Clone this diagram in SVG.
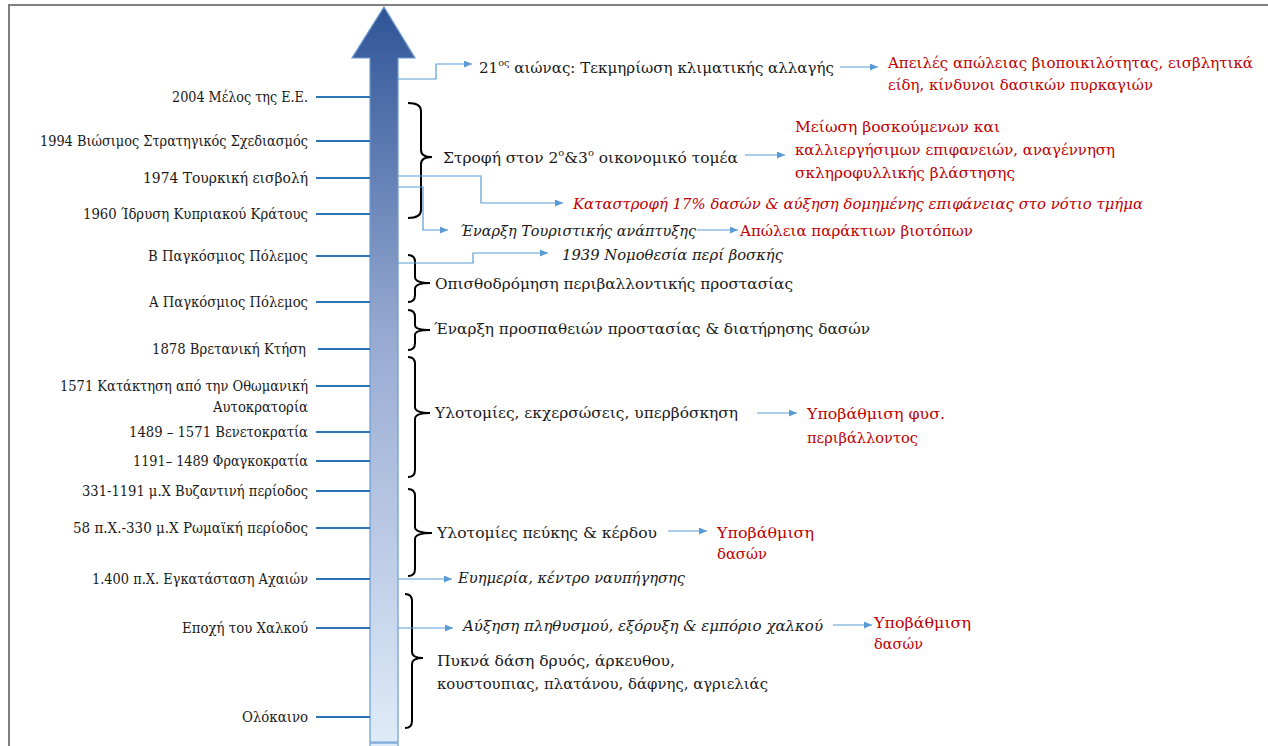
<svg xmlns="http://www.w3.org/2000/svg" width="1268" height="746" viewBox="0 0 1268 746" font-family="DejaVu Serif, serif">
<style>
.lbl{font-size:14.5px;fill:#1a1a1a;text-anchor:end}
.t{font-size:15.5px;fill:#1a1a1a}
.r{fill:#c00000}
.i{font-style:italic}
.tick{stroke:#2e75b6;stroke-width:2;fill:none}
.arr{stroke:#5b9bd5;stroke-width:1.2;fill:none;marker-end:url(#ah)}
.br{stroke:#000;stroke-width:2;fill:none}
</style>
<defs>
<linearGradient id="g" x1="0" y1="7" x2="0" y2="742" gradientUnits="userSpaceOnUse">
<stop offset="0" stop-color="#2f5597"/>
<stop offset="0.45" stop-color="#98aad2"/>
<stop offset="1" stop-color="#deebf8"/>
</linearGradient>
<marker id="ah" markerWidth="8" markerHeight="8" refX="8" refY="3.5" orient="auto" markerUnits="userSpaceOnUse">
<path d="M0,0 L8,3.5 L0,7 z" fill="#5b9bd5"/>
</marker>
</defs>
<rect width="1268" height="746" fill="#fff"/>
<path d="M9,760 V5 H1280" stroke="#7f7f7f" stroke-width="2" fill="none"/>
<g id="timeline-arrow">
<polygon points="384,7 415,58 398,58 398,742 370,742 370,58 352,58" fill="url(#g)" stroke="#6c9bd2" stroke-width="1.2"/>
<rect x="370" y="743" width="28" height="10" fill="#deebf8" stroke="#6c9bd2" stroke-width="1.2"/>
</g>
<g id="ticks">
<path class="tick" d="M316,97H370M316,141H370M316,178H370M316,214H370M316,256H370M316,302H370M318,349H370M316,386H370M316,432H370M316,461H370M316,491H370M316,528H370M316,579H370M316,628H370M316,717H370"/>
</g>
<g id="dates">
<text class="lbl" x="308" y="102" textLength="136" lengthAdjust="spacingAndGlyphs">2004 Μέλος της Ε.Ε.</text>
<text class="lbl" x="308" y="146" textLength="268" lengthAdjust="spacingAndGlyphs">1994 Βιώσιμος Στρατηγικός Σχεδιασμός</text>
<text class="lbl" x="308" y="183" textLength="165" lengthAdjust="spacingAndGlyphs">1974 Τουρκική εισβολή</text>
<text class="lbl" x="308" y="219" textLength="225" lengthAdjust="spacingAndGlyphs">1960 Ίδρυση Κυπριακού Κράτους</text>
<text class="lbl" x="308" y="261" textLength="160" lengthAdjust="spacingAndGlyphs">Β Παγκόσμιος Πόλεμος</text>
<text class="lbl" x="308" y="307" textLength="159" lengthAdjust="spacingAndGlyphs">Α Παγκόσμιος Πόλεμος</text>
<text class="lbl" x="306" y="354" textLength="154" lengthAdjust="spacingAndGlyphs">1878 Βρετανική Κτήση</text>
<text class="lbl" x="308" y="391" textLength="248" lengthAdjust="spacingAndGlyphs">1571 Κατάκτηση από την Οθωμανική</text>
<text class="lbl" x="308" y="412" textLength="95" lengthAdjust="spacingAndGlyphs">Αυτοκρατορία</text>
<text class="lbl" x="308" y="437" textLength="179" lengthAdjust="spacingAndGlyphs">1489 – 1571 Βενετοκρατία</text>
<text class="lbl" x="308" y="466" textLength="175" lengthAdjust="spacingAndGlyphs">1191– 1489 Φραγκοκρατία</text>
<text class="lbl" x="308" y="496" textLength="226" lengthAdjust="spacingAndGlyphs">331-1191 μ.Χ Βυζαντινή περίοδος</text>
<text class="lbl" x="308" y="533" textLength="235" lengthAdjust="spacingAndGlyphs">58 π.Χ.-330 μ.Χ Ρωμαϊκή περίοδος</text>
<text class="lbl" x="308" y="584" textLength="216" lengthAdjust="spacingAndGlyphs">1.400 π.Χ. Εγκατάσταση Αχαιών</text>
<text class="lbl" x="308" y="633" textLength="126" lengthAdjust="spacingAndGlyphs">Εποχή του Χαλκού</text>
<text class="lbl" x="308" y="722" textLength="66" lengthAdjust="spacingAndGlyphs">Ολόκαινο</text>
</g>
<g id="braces">
<path class="br" d="M408,103 Q421,103 421,111 L421,150 Q421,157 432,157 Q421,157 421,164 L421,210 Q421,218 408,218"/>
<path class="br" d="M408,255 Q415,255 415,262 L415,277 Q415,283 430,283 Q415,283 415,289 L415,295 Q415,302 408,302"/>
<path class="br" d="M408,310 Q415,310 415,317 L415,325 Q415,330 430,330 Q415,330 415,335 L415,343 Q415,350 408,350"/>
<path class="br" d="M408,357 Q415,357 415,364 L415,407 Q415,413 430,413 Q415,413 415,419 L415,470 Q415,477 408,477"/>
<path class="br" d="M408,489 Q415,489 415,496 L415,527 Q415,533 432,533 Q415,533 415,539 L415,569 Q415,576 408,576"/>
<path class="br" d="M405,594 Q412,594 412,601 L412,652 Q412,658 423,658 Q412,658 412,664 L412,721 Q412,728 405,728"/>
</g>
<g id="connectors">
<path class="arr" d="M398,79 H436 V64 H472"/>
<path class="arr" d="M840,67 H878"/>
<path class="arr" d="M745,155 H785"/>
<path class="arr" d="M398,176 H481 V203 H563"/>
<path class="arr" d="M398,187 H423 V230 H448"/>
<path class="arr" d="M697,230 H738"/>
<path class="arr" d="M398,263 H473 V253 H548"/>
<path class="arr" d="M757,413 H797"/>
<path class="arr" d="M668,531 H707"/>
<path class="arr" d="M398,579 H452"/>
<path class="arr" d="M398,628 H453"/>
<path class="arr" d="M833,625 H872"/>
</g>
<g id="n-21c">
<text class="t" x="479" y="73" textLength="355" lengthAdjust="spacingAndGlyphs">21<tspan font-size="10" dy="-7">ος</tspan><tspan dy="7"> αιώνας: Τεκμηρίωση κλιματικής αλλαγής</tspan></text>
</g>
<g id="n-threats">
<text class="t r" x="888" y="68" textLength="365" lengthAdjust="spacingAndGlyphs">Απειλές απώλειας βιοποικιλότητας, εισβλητικά</text>
<text class="t r" x="888" y="90" textLength="265" lengthAdjust="spacingAndGlyphs">είδη, κίνδυνοι δασικών πυρκαγιών</text>
</g>
<g id="n-sector">
<text class="t" x="443" y="163" textLength="295" lengthAdjust="spacingAndGlyphs">Στροφή στον 2<tspan font-size="10" dy="-7">ο</tspan><tspan dy="7">&amp;3</tspan><tspan font-size="10" dy="-7">ο</tspan><tspan dy="7"> οικονομικό τομέα</tspan></text>
</g>
<g id="n-reduction">
<text class="t r" x="795" y="132" textLength="205" lengthAdjust="spacingAndGlyphs">Μείωση βοσκούμενων και</text>
<text class="t r" x="795" y="155" textLength="320" lengthAdjust="spacingAndGlyphs">καλλιεργήσιμων επιφανειών, αναγέννηση</text>
<text class="t r" x="795" y="178" textLength="220" lengthAdjust="spacingAndGlyphs">σκληροφυλλικής βλάστησης</text>
</g>
<g id="n-destruction">
<text class="t r i" x="573" y="209" textLength="570" lengthAdjust="spacingAndGlyphs">Καταστροφή 17% δασών &amp; αύξηση δομημένης επιφάνειας στο νότιο τμήμα</text>
</g>
<g id="n-tourism">
<text class="t i" x="460" y="236" textLength="236" lengthAdjust="spacingAndGlyphs">Έναρξη Τουριστικής ανάπτυξης</text>
</g>
<g id="n-coastal">
<text class="t r" x="740" y="236" textLength="233" lengthAdjust="spacingAndGlyphs">Απώλεια παράκτιων βιοτόπων</text>
</g>
<g id="n-1939">
<text class="t i" x="562" y="260" textLength="221" lengthAdjust="spacingAndGlyphs">1939 Νομοθεσία περί βοσκής</text>
</g>
<g id="n-regression">
<text class="t" x="435" y="289" textLength="358" lengthAdjust="spacingAndGlyphs">Οπισθοδρόμηση περιβαλλοντικής προστασίας</text>
</g>
<g id="n-protection">
<text class="t" x="434" y="334" textLength="436" lengthAdjust="spacingAndGlyphs">Έναρξη προσπαθειών προστασίας &amp; διατήρησης δασών</text>
</g>
<g id="n-logging">
<text class="t" x="435" y="418" textLength="303" lengthAdjust="spacingAndGlyphs">Υλοτομίες, εκχερσώσεις, υπερβόσκηση</text>
</g>
<g id="n-degr-env">
<text class="t r" x="807" y="419" textLength="138" lengthAdjust="spacingAndGlyphs">Υποβάθμιση φυσ.</text>
<text class="t r" x="807" y="443" textLength="111" lengthAdjust="spacingAndGlyphs">περιβάλλοντος</text>
</g>
<g id="n-pine">
<text class="t" x="437" y="538" textLength="220" lengthAdjust="spacingAndGlyphs">Υλοτομίες πεύκης &amp; κέρδου</text>
</g>
<g id="n-degr-forest1">
<text class="t r" x="717" y="538" textLength="97" lengthAdjust="spacingAndGlyphs">Υποβάθμιση</text>
<text class="t r" x="717" y="559" textLength="50" lengthAdjust="spacingAndGlyphs">δασών</text>
</g>
<g id="n-prosperity">
<text class="t i" x="458" y="583" textLength="227" lengthAdjust="spacingAndGlyphs">Ευημερία, κέντρο ναυπήγησης</text>
</g>
<g id="n-population">
<text class="t i" x="463" y="631" textLength="360" lengthAdjust="spacingAndGlyphs">Αύξηση πληθυσμού, εξόρυξη &amp; εμπόριο χαλκού</text>
</g>
<g id="n-degr-forest2">
<text class="t r" x="874" y="628" textLength="97" lengthAdjust="spacingAndGlyphs">Υποβάθμιση</text>
<text class="t r" x="874" y="649" textLength="49" lengthAdjust="spacingAndGlyphs">δασών</text>
</g>
<g id="n-dense">
<text class="t" x="437" y="666" textLength="238" lengthAdjust="spacingAndGlyphs">Πυκνά δάση δρυός, άρκευθου,</text>
<text class="t" x="437" y="689" textLength="331" lengthAdjust="spacingAndGlyphs">κουστουπιας, πλατάνου, δάφνης, αγριελιάς</text>
</g>
</svg>
